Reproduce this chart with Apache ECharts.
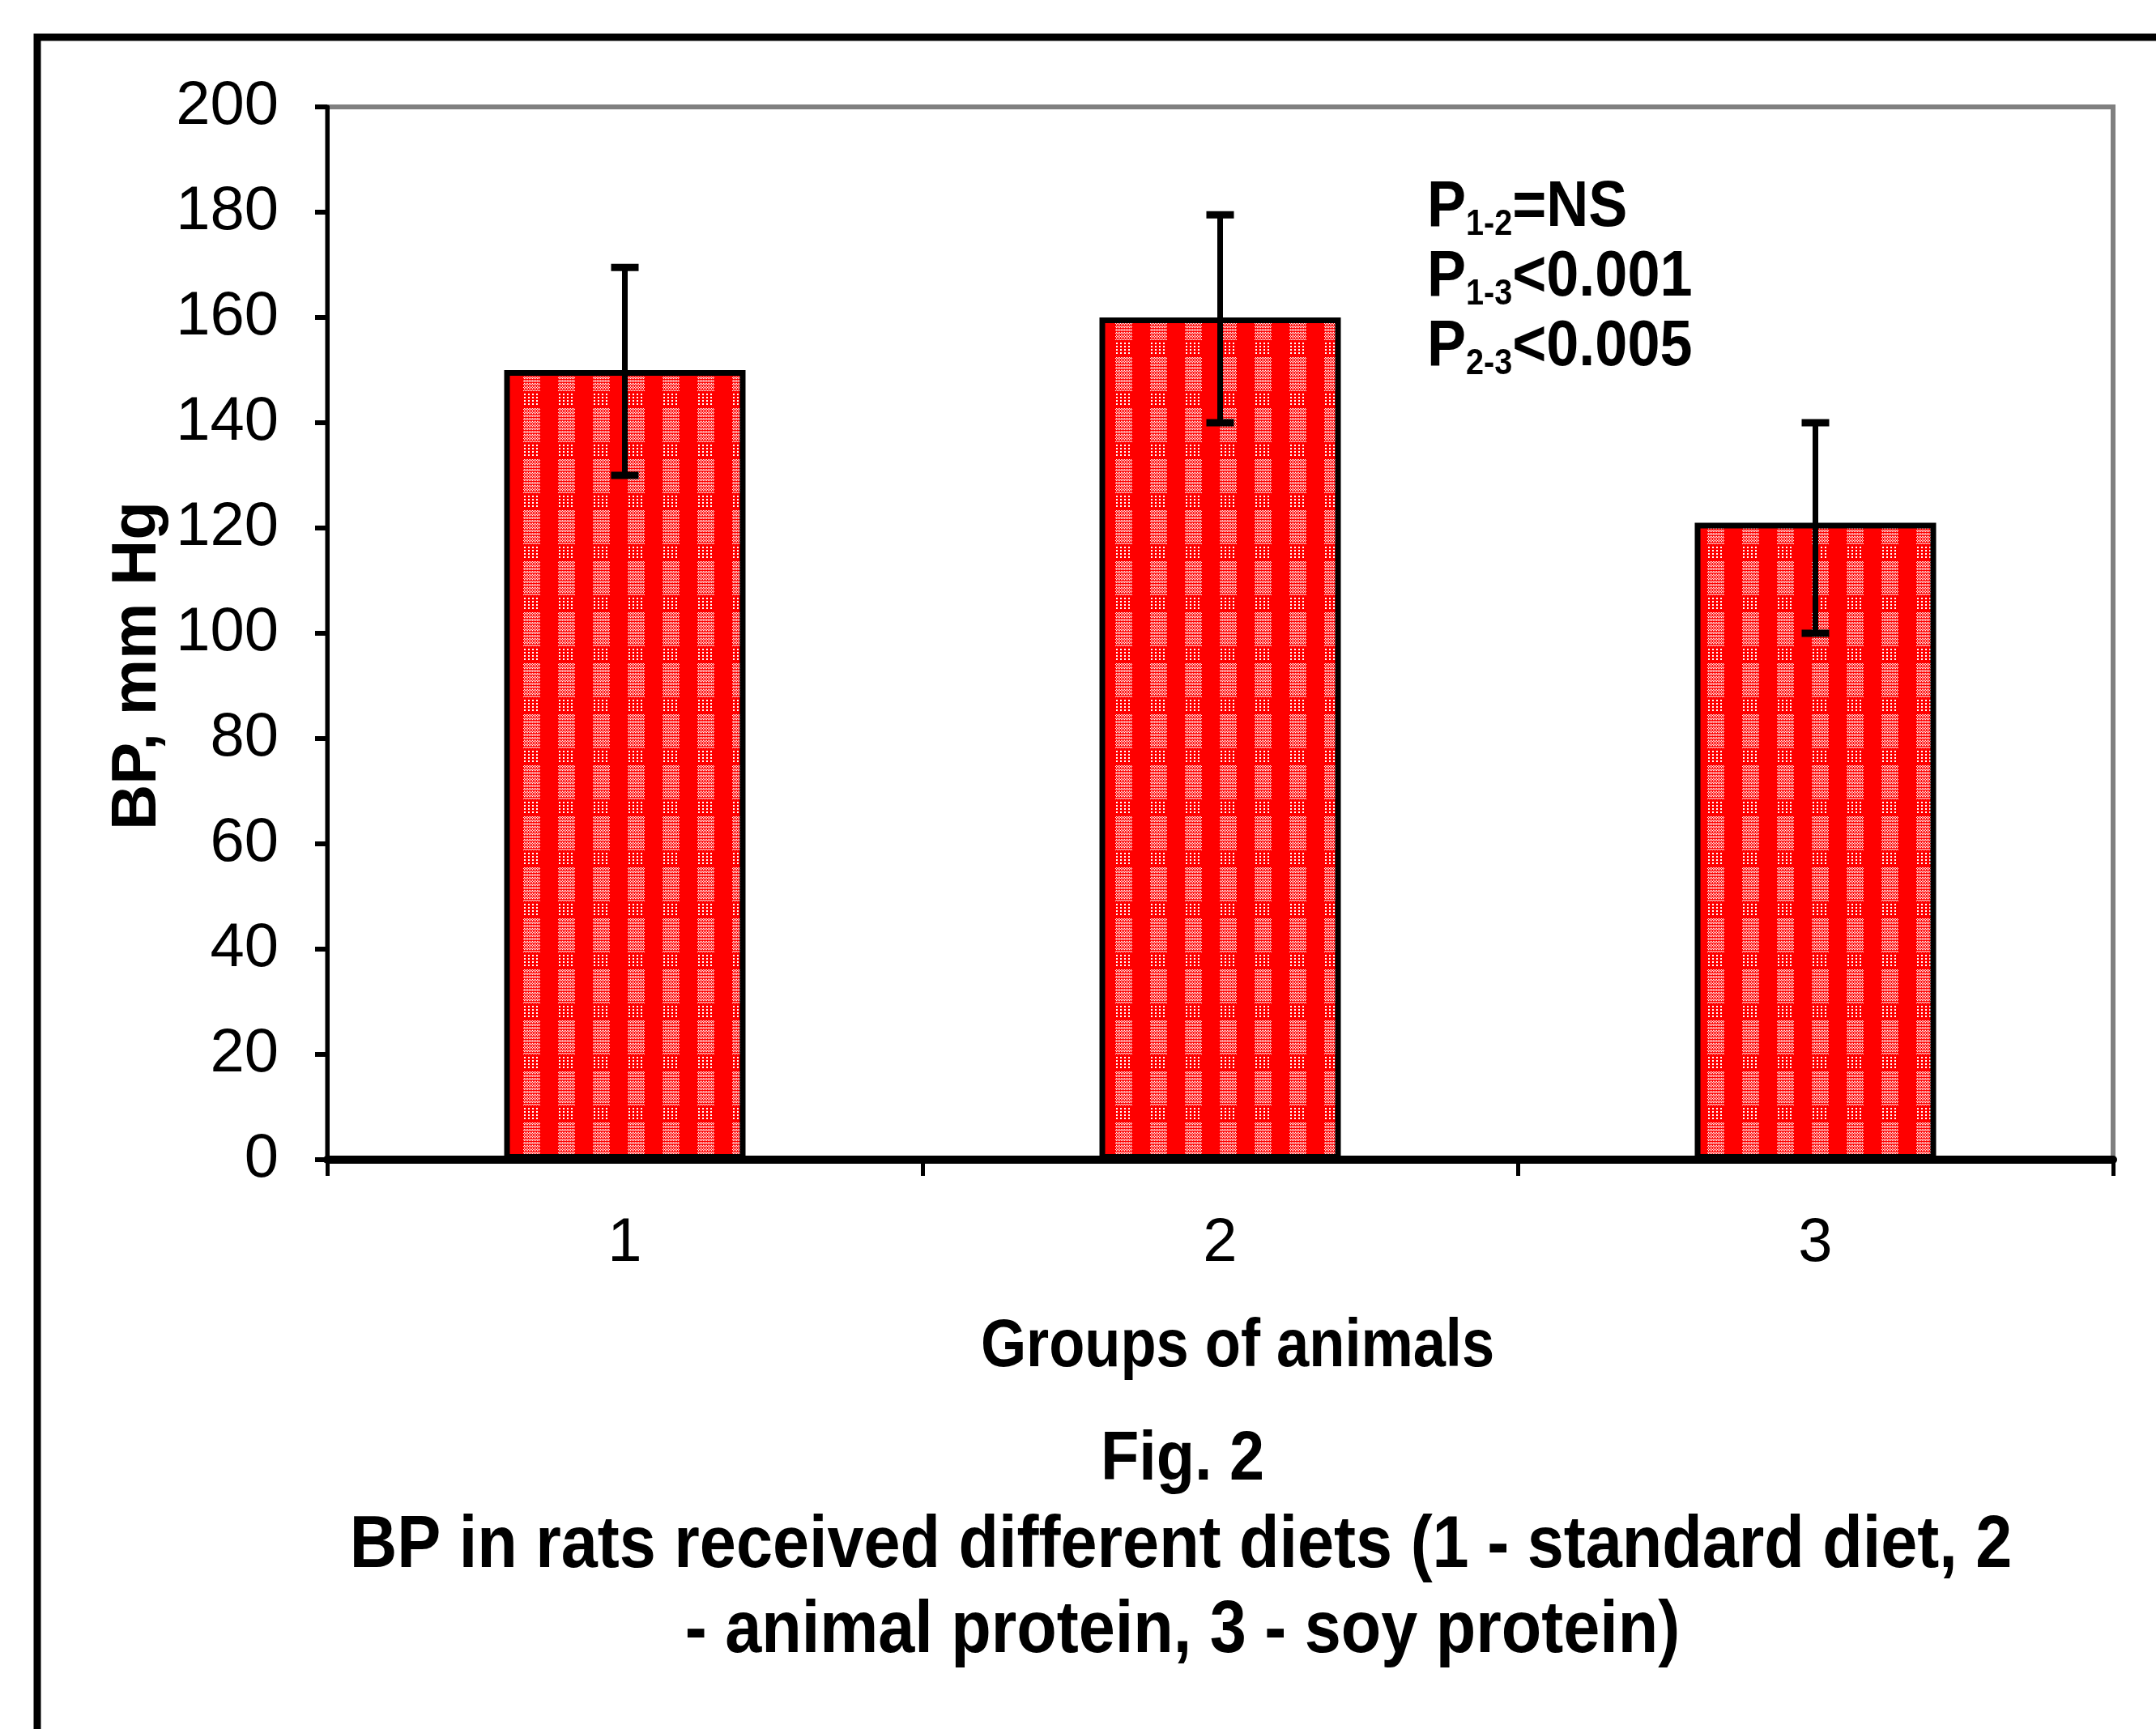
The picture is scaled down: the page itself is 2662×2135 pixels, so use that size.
<!DOCTYPE html>
<html>
<head>
<meta charset="utf-8">
<script src="https://cdn.jsdelivr.net/npm/echarts@6/dist/echarts.min.js"></script>
<style>
  html, body { margin: 0; padding: 0; background: #fff; }
  #chart { width: 2662px; height: 2135px; }
</style>
</head>
<body>
<div id="chart"></div>
<script>
// ---- data ----
const categories = ['1', '2', '3'];
const bpMean = [150, 160, 121];
const errHigh = [169.5, 179.5, 140];
const errLow = [130, 140, 100];
const yTicks = { min: 0, max: 200, interval: 20 };
const xAxisTitle = 'Groups of animals';
const yAxisTitle = 'BP, mm Hg';
const figLabel = 'Fig. 2';
const captionLines = [
  'BP in rats received different diets (1 - standard diet, 2',
  '- animal protein, 3 - soy protein)'
];
const pLines = [
  { sub: '1-2', rest: '=NS' },
  { sub: '1-3', rest: '<0.001' },
  { sub: '2-3', rest: '<0.005' }
];

const FONT = '"Liberation Sans Narrow", "Arial Narrow", "Liberation Sans", Arial, sans-serif';

// ---- pattern tile: red with white dotted vertical stripes ----
function makePattern() {
  const c = document.createElement('canvas');
  c.width = 43; c.height = 63;
  const g = c.getContext('2d');
  g.fillStyle = '#ff0000';
  g.fillRect(0, 0, 43, 63);
  g.fillStyle = '#ffffff';
  for (let y = 0; y < 42; y++) {
    for (let x = 1; x < 22; x++) {
      if ((x + y) % 2 === 0 && y % 4 !== 3) g.fillRect(x, y, 1, 1);
    }
  }
  for (let y = 45; y < 61; y += 4) {
    for (let x = 2; x < 22; x += 5) {
      g.fillRect(x, y, 2, 2);
    }
  }
  return c;
}

const chart = echarts.init(document.getElementById('chart'), null, { renderer: 'canvas' });

const gridLeft = 404, gridTop = 132, gridRight = 53, gridBottom = 703;

function txt(x, y, text, size, sx, extra) {
  return Object.assign({
    type: 'text',
    x: x, y: y, scaleX: sx, scaleY: 1,
    style: {
      text: text, fontSize: size, fontWeight: 'bold', fontFamily: FONT, fill: '#000',
      align: 'center', verticalAlign: 'middle'
    },
    z: 10
  }, extra || {});
}

const option = {
  backgroundColor: '#ffffff',
  animation: false,
  grid: {
    left: gridLeft, top: gridTop, right: gridRight, bottom: gridBottom,
    show: true, borderColor: '#808080', borderWidth: 6, backgroundColor: 'transparent'
  },
  xAxis: {
    type: 'category',
    data: categories,
    boundaryGap: true,
    axisLine: { lineStyle: { color: '#000', width: 10 } },
    axisTick: { show: true, alignWithLabel: false, length: 20, lineStyle: { color: '#000', width: 5 } },
    axisLabel: { color: '#000', fontSize: 76, fontFamily: FONT, margin: 66 },
    splitLine: { show: false }
  },
  yAxis: {
    type: 'value',
    min: yTicks.min, max: yTicks.max, interval: yTicks.interval,
    axisLine: { show: true, lineStyle: { color: '#000', width: 5 } },
    axisTick: { show: true, length: 15, lineStyle: { color: '#000', width: 6 } },
    axisLabel: { color: '#000', fontSize: 76, fontFamily: FONT, margin: 60 },
    splitLine: { show: false }
  },
  series: [
    {
      type: 'bar',
      data: bpMean,
      barWidth: 298,
      itemStyle: {
        color: { image: makePattern(), repeat: 'repeat' },
        borderColor: '#000',
        borderWidth: 7
      },
      z: 2
    },
    {
      type: 'custom',
      data: categories.map((c, i) => [i, errLow[i], errHigh[i]]),
      z: 5,
      renderItem: function (params, api) {
        const xi = api.value(0);
        const lo = api.coord([xi, api.value(1)]);
        const hi = api.coord([xi, api.value(2)]);
        const cx = lo[0];
        const half = 17;
        return {
          type: 'group',
          children: [
            { type: 'line', shape: { x1: cx, y1: lo[1], x2: cx, y2: hi[1] }, style: { stroke: '#000', lineWidth: 7 } },
            { type: 'line', shape: { x1: cx - half, y1: hi[1], x2: cx + half, y2: hi[1] }, style: { stroke: '#000', lineWidth: 9 } },
            { type: 'line', shape: { x1: cx - half, y1: lo[1], x2: cx + half, y2: lo[1] }, style: { stroke: '#000', lineWidth: 9 } }
          ]
        };
      }
    }
  ],
  graphic: [
    {
      type: 'rect',
      shape: { x: 46, y: 46, width: 4000, height: 4000 },
      style: { fill: 'none', stroke: '#000', lineWidth: 9 },
      silent: true, z: 0
    },
    {
      type: 'text',
      x: 1762, y: 214, scaleX: 0.9, scaleY: 1,
      style: {
        text: pLines.map(p => '{p|P}{s|' + p.sub + '}{p|' + p.rest + '}').join('\n'),
        rich: {
          p: { fontSize: 80, fontWeight: 'bold', fontFamily: FONT, fill: '#000', lineHeight: 86, verticalAlign: 'middle' },
          s: { fontSize: 44, fontWeight: 'bold', fontFamily: FONT, fill: '#000', lineHeight: 44, verticalAlign: 'bottom' }
        }
      },
      z: 10
    },
    txt(170, 822, yAxisTitle, 78, 1, { rotation: Math.PI / 2 }),
    txt(1528, 1664, xAxisTitle, 84, 0.86),
    txt(1460, 1803, figLabel, 86, 0.9),
    txt(1458, 1910, captionLines[0], 90, 0.9),
    txt(1460, 2015, captionLines[1], 90, 0.9)
  ]
};

chart.setOption(option);
</script>
</body>
</html>
